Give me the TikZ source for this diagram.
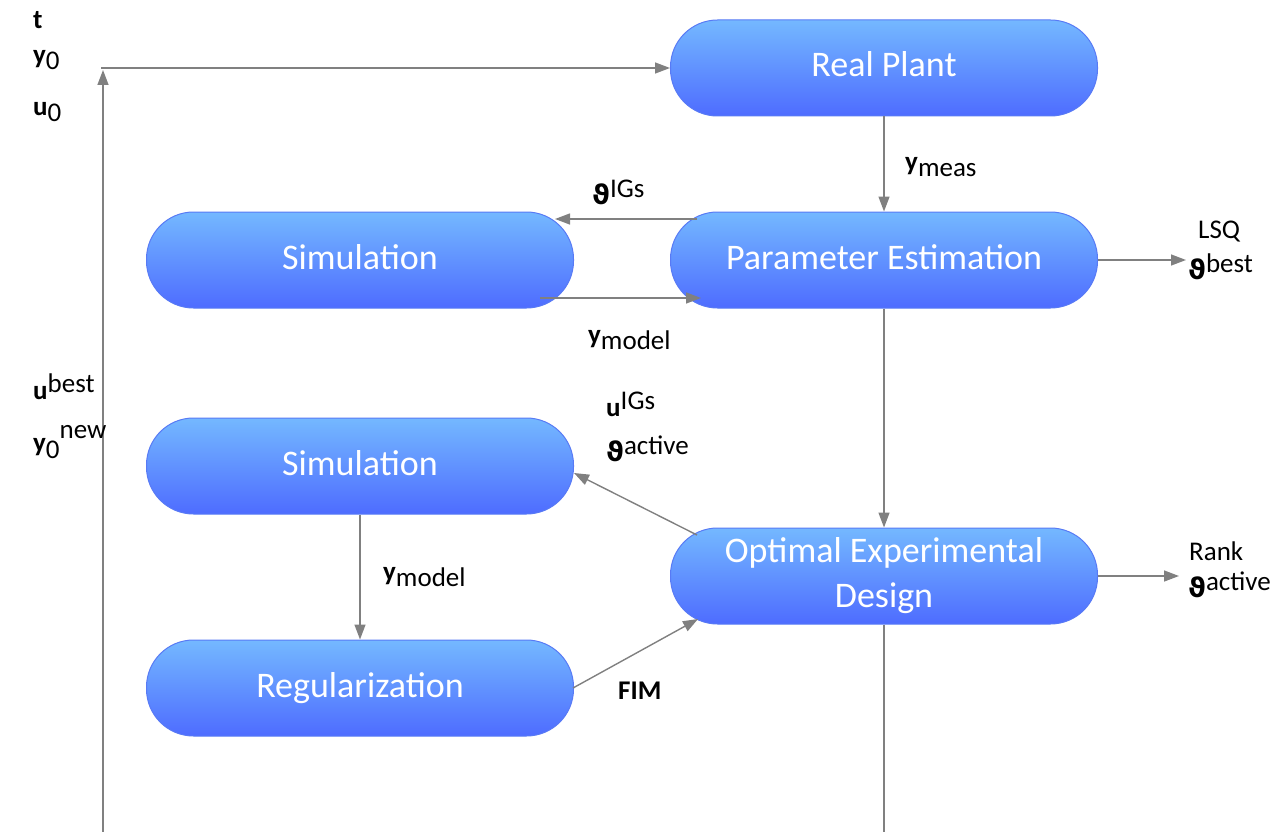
\documentclass[tikz,border=0pt]{standalone}
\usepackage{fontspec}
\setmainfont{Carlito}
\newfontfamily\symfont{DejaVu Sans}
\usetikzlibrary{arrows.meta}
\definecolor{topc}{RGB}{116,184,255}
\definecolor{botc}{RGB}{78,108,255}
\definecolor{edgec}{RGB}{88,122,245}
\definecolor{arrc}{RGB}{128,128,128}
\newcommand{\lo}[1]{\raisebox{-0.5ex}{#1}}
\newcommand{\hi}[1]{\raisebox{0.55ex}{#1}}
\newcommand{\vth}{{\symfont\bfseries\fontsize{27}{30}\selectfont ϑ}}
\newcommand{\up}[1]{\raisebox{5pt}{\begin{tabular}{@{}c@{}}#1\end{tabular}}}
\begin{document}
\begin{tikzpicture}[x=1pt,y=-1pt,
  proc/.style={rectangle, rounded corners=47pt, minimum width=427pt, minimum height=96pt,
    draw=edgec, line width=1pt, top color=topc, bottom color=botc, text=white,
    font=\fontsize{36}{45}\selectfont, align=center, inner sep=0pt},
  lab/.style={anchor=west, inner sep=0pt, font=\fontsize{27}{30}\selectfont, text=black},
  arr/.style={draw=arrc, line width=1.4pt, -{Triangle[length=15pt,width=11pt]}, arrc},
  ln/.style={draw=arrc, line width=1.4pt}]
\useasboundingbox (0,0) rectangle (1287,832);

\node[proc] (RP) at (884,68) {\up{Real Plant}};
\node[proc] (PE) at (884,260) {\up{Parameter Estimation}};
\node[proc] (S1) at (360,260) {\up{Simulation}};
\node[proc] (S2) at (360,466) {\up{Simulation}};
\node[proc] (OED) at (884,576) {\up{Optimal Experimental\\Design}};
\node[proc] (REG) at (360,688) {\up{Regularization}};

\coordinate (lb) at (103,832);
\coordinate (lt) at (103,70);
\coordinate (hs) at (101,68);
\coordinate (ob) at (884,832);

\draw[arr] (lb) -- (lt);
\draw[arr] (hs) -- (RP.west);
\draw[arr] (RP.south) -- (PE.north);
\draw[arr] (697,219) -- (555,219);
\draw[arr] (540,298) -- (701,298);
\draw[arr] (PE.east) -- (1186,260);
\draw[arr] (PE.south) -- (OED.north);
\draw[arr] (697,535) -- (574,473);
\draw[arr] (S2.south) -- (REG.north);
\draw[arr] (573,688) -- (698,619);
\draw[arr] (OED.east) -- (1179,576);
\draw[ln] (OED.south) -- (ob);

\node[lab] (t) at (33,20) {\textbf{t}};
\node[lab] (y0) at (33,60) {\textbf{y}\lo{0}};
\node[lab] (u0) at (33,112) {\textbf{u}\lo{0}};
\node[lab] (ub) at (33,387) {\textbf{u}\hi{best}};
\node[lab] (y0n) at (33,442) {\textbf{y}\lo{0}\raisebox{1.0ex}{new}};
\node[lab] (ym) at (905,167) {\textbf{y}\lo{meas}};
\node[lab] (thig) at (592,192) {\vth\hi{IGs}};
\node[lab] (ymod1) at (588,340) {\textbf{y}\lo{model}};
\node[lab] (lsq) at (1198,232) {LSQ};
\node[lab] (thb) at (1188,267) {\vth\hi{best}};
\node[lab] (uig) at (606,404) {\textbf{u}\hi{IGs}};
\node[lab] (tha) at (606,449) {\vth\hi{active}};
\node[lab] (ymod2) at (383,577) {\textbf{y}\lo{model}};
\node[lab] (fim) at (618,691) {\textbf{FIM}};
\node[lab] (rank) at (1189,551) {Rank};
\node[lab] (tha2) at (1188,585) {\vth\hi{active}};
\end{tikzpicture}
\end{document}
